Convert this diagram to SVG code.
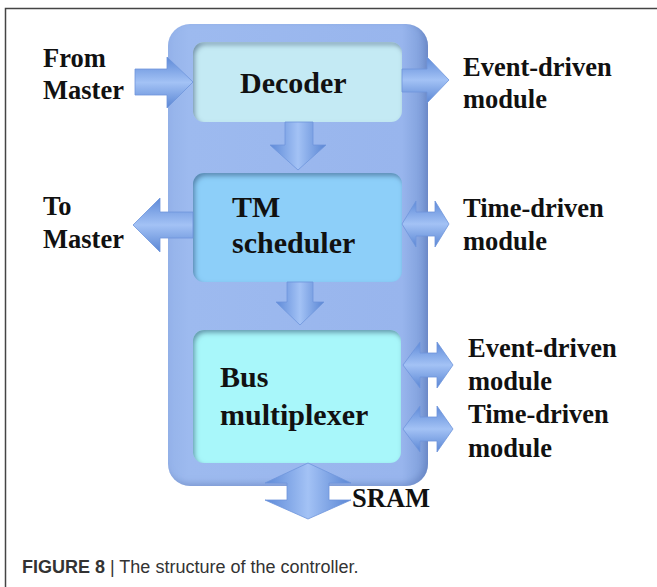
<svg xmlns="http://www.w3.org/2000/svg" width="657" height="587" viewBox="0 0 657 587">
  <defs>
    <style>
      .lbl { font-family: "Liberation Serif", "Times New Roman", serif; font-weight: bold; fill: #111; }
      .side { font-size: 26.5px; }
      .box { font-size: 30px; }
      .arrow-h { fill: url(#gradH); stroke: #6f95dc; stroke-width: 0.8; }
      .arrow-v { fill: url(#gradV); stroke: #6f95dc; stroke-width: 0.8; }
      .cap { font-family: "Liberation Sans", Arial, sans-serif; font-size: 18px; fill: #333; }
    </style>
    <!-- shading across horizontal arrows: darker rims, lighter core -->
    <linearGradient id="gradH" x1="0" y1="0" x2="0" y2="1">
      <stop offset="0" stop-color="#5e8ad8"/>
      <stop offset="0.5" stop-color="#a3c2f5"/>
      <stop offset="1" stop-color="#5a86d4"/>
    </linearGradient>
    <!-- shading across vertical arrows -->
    <linearGradient id="gradV" x1="0" y1="0" x2="1" y2="0">
      <stop offset="0" stop-color="#5e8ad8"/>
      <stop offset="0.5" stop-color="#a3c2f5"/>
      <stop offset="1" stop-color="#5a86d4"/>
    </linearGradient>
    <!-- outer housing shading -->
    <linearGradient id="gradOuter" x1="0" y1="0" x2="1" y2="0">
      <stop offset="0" stop-color="#95b3ea"/>
      <stop offset="0.08" stop-color="#9dbaef"/>
      <stop offset="0.9" stop-color="#98b5ed"/>
      <stop offset="0.96" stop-color="#86a5e0"/>
      <stop offset="1" stop-color="#7897d4"/>
    </linearGradient>
    <!-- soft inner shadow along the top-left edges of the blocks -->
    <filter id="inset" x="-5%" y="-5%" width="110%" height="110%">
      <feComponentTransfer in="SourceAlpha" result="inv">
        <feFuncA type="table" tableValues="1 0"/>
      </feComponentTransfer>
      <feOffset in="inv" dx="2" dy="3" result="off"/>
      <feGaussianBlur in="off" stdDeviation="2.5" result="blur"/>
      <feFlood flood-color="#2f4f80" flood-opacity="0.75"/>
      <feComposite in2="blur" operator="in" result="col"/>
      <feComposite in="col" in2="SourceAlpha" operator="in" result="shadow"/>
      <feMerge>
        <feMergeNode in="SourceGraphic"/>
        <feMergeNode in="shadow"/>
      </feMerge>
    </filter>
    <filter id="outerShade" x="-5%" y="-5%" width="110%" height="110%">
      <feComponentTransfer in="SourceAlpha" result="inv">
        <feFuncA type="table" tableValues="1 0"/>
      </feComponentTransfer>
      <feOffset in="inv" dx="-3" dy="-3" result="off"/>
      <feGaussianBlur in="off" stdDeviation="3" result="blur"/>
      <feFlood flood-color="#5a78b8" flood-opacity="0.55"/>
      <feComposite in2="blur" operator="in" result="col"/>
      <feComposite in="col" in2="SourceAlpha" operator="in" result="shadow"/>
      <feMerge>
        <feMergeNode in="SourceGraphic"/>
        <feMergeNode in="shadow"/>
      </feMerge>
    </filter>
  </defs>

  <rect width="657" height="587" fill="#ffffff"/>

  <!-- panel frame -->
  <g id="frame" fill="none" stroke="#444" stroke-width="1.5">
    <path d="M5.5,587 V8.5 H657"/>
  </g>

  <!-- controller housing -->
  <g id="controller">
    <rect x="168" y="24" width="260" height="462" rx="22" fill="url(#gradOuter)" filter="url(#outerShade)"/>
  </g>

  <g id="decoder">
    <rect x="193" y="42" width="209" height="80" rx="11" fill="#c4eaf4" filter="url(#inset)"/>
    <text class="lbl box" x="240" y="93">Decoder</text>
  </g>

  <g id="tm-scheduler">
    <rect x="193" y="173" width="209" height="109" rx="11" fill="#8dcff9" filter="url(#inset)"/>
    <text class="lbl box" x="232" y="217">TM</text>
    <text class="lbl box" x="232" y="253">scheduler</text>
  </g>

  <g id="bus-multiplexer">
    <rect x="193" y="330" width="208" height="133" rx="11" fill="#a8f7fa" filter="url(#inset)"/>
    <text class="lbl box" x="220" y="387">Bus</text>
    <text class="lbl box" x="220" y="425">multiplexer</text>
  </g>

  <!-- external endpoints -->
  <g id="from-master">
    <text class="lbl side" x="43" y="67">From</text>
    <text class="lbl side" x="43" y="99">Master</text>
  </g>
  <g id="to-master">
    <text class="lbl side" x="43" y="215">To</text>
    <text class="lbl side" x="43" y="248">Master</text>
  </g>
  <g id="event-module-1">
    <text class="lbl side" x="463" y="76">Event-driven</text>
    <text class="lbl side" x="463" y="108">module</text>
  </g>
  <g id="time-module-1">
    <text class="lbl side" x="463" y="217">Time-driven</text>
    <text class="lbl side" x="463" y="250">module</text>
  </g>
  <g id="event-module-2">
    <text class="lbl side" x="468" y="357">Event-driven</text>
    <text class="lbl side" x="468" y="390">module</text>
  </g>
  <g id="time-module-2">
    <text class="lbl side" x="468" y="423">Time-driven</text>
    <text class="lbl side" x="468" y="457">module</text>
  </g>
  <g id="sram">
    <text class="lbl side" x="352" y="507">SRAM</text>
  </g>

  <!-- block arrows -->
  <g id="connectors">
    <polygon class="arrow-h" points="135,69 167,69 167,57 193,82 167,108 167,95 135,95"/>
    <polygon class="arrow-v" points="285,122 313,122 313,145 326,145 298,170 270,145 285,145"/>
    <polygon class="arrow-v" points="287,282 313,282 313,302 324,302 300,325 276,302 287,302"/>
    <polygon class="arrow-h" points="193,212 160,212 160,198 133,225 160,252 160,238 193,238"/>
    <polygon class="arrow-h" points="402,69 427,69 427,57 449,80 427,103 427,92 402,92"/>
    <polygon class="arrow-h" points="402,224 416,201 416,212 435,212 435,201 449,224 435,247 435,236 416,236 416,247"/>
    <polygon class="arrow-h" points="403,365 420,342 420,353 437,353 437,342 453,365 437,388 437,377 420,377 420,388"/>
    <polygon class="arrow-h" points="403,429 420,406 420,417 437,417 437,406 453,429 437,452 437,441 420,441 420,452"/>
    <polygon class="arrow-v" points="308,463 351,483 329,483 329,500 351,500 308,519 265,500 287,500 287,483 265,483"/>
  </g>

  <text class="cap" x="22" y="573"><tspan font-weight="bold">FIGURE 8</tspan> | The structure of the controller.</text>
</svg>
